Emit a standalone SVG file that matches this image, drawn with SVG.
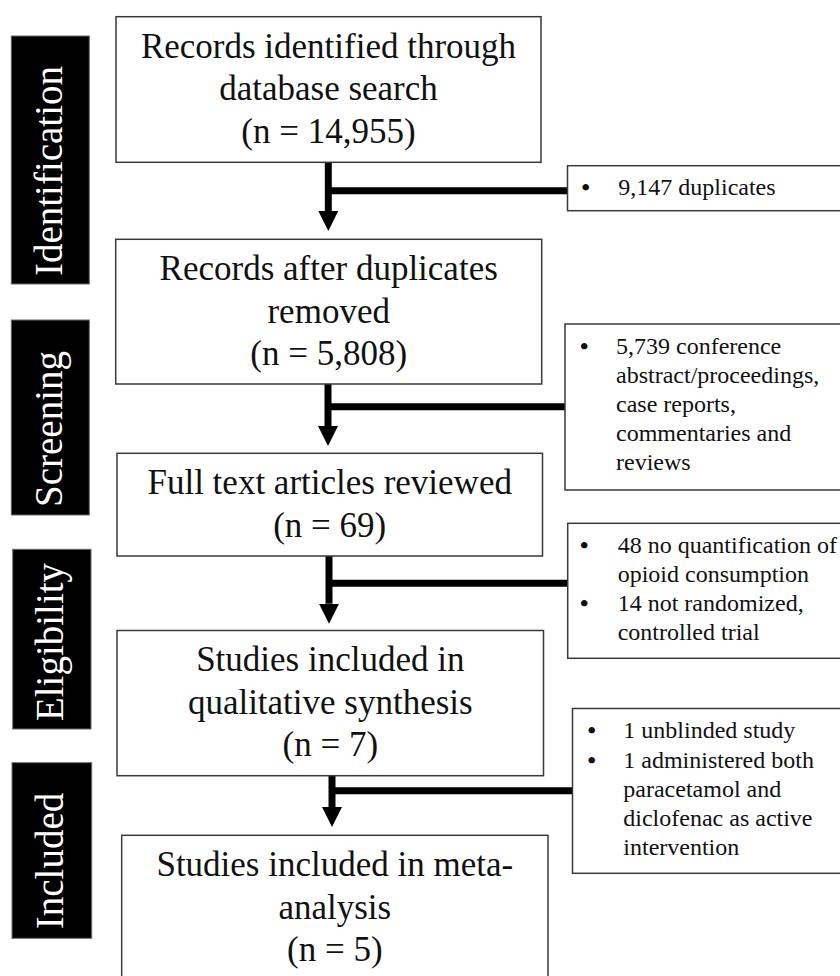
<svg xmlns="http://www.w3.org/2000/svg" width="840" height="976" viewBox="0 0 840 976">
<style>
.bg{fill:#ffffff}
.box{fill:#ffffff;stroke:#3a3a3a;stroke-width:1.5}
.lab{fill:#000000;stroke:#6a6a6a;stroke-width:1}
.labt{font-family:"Liberation Serif","Times New Roman",serif;font-size:39px;fill:#ffffff;text-anchor:middle}
.mt{font-family:"Liberation Serif","Times New Roman",serif;font-size:35px;fill:#111111;text-anchor:middle}
.st{font-family:"Liberation Serif","Times New Roman",serif;font-size:24px;fill:#111111}
.bul{font-family:"Liberation Serif","Times New Roman",serif;font-size:24px;font-weight:bold;fill:#111111;text-anchor:middle}
.con{fill:none;stroke:#000000;stroke-width:7}
</style>
<defs>
<marker id="ah" markerUnits="userSpaceOnUse" markerWidth="20" markerHeight="20" refX="0" refY="10" orient="auto">
<path d="M0,0 L20,10 L0,20 z" fill="#000000"/>
</marker>
</defs>
<rect class="bg" x="0" y="0" width="840" height="976"/>

<g id="label-identification">
<rect class="lab" x="11.3" y="36" width="78" height="248"/>
<text class="labt" x="62" y="171" transform="rotate(-90 62 171)">Identification</text>
</g>
<g id="label-screening">
<rect class="lab" x="11.3" y="320" width="78" height="195"/>
<text class="labt" x="62" y="429" transform="rotate(-90 62 429)">Screening</text>
</g>
<g id="label-eligibility">
<rect class="lab" x="12.7" y="549.3" width="78.3" height="179.7"/>
<text class="labt" x="63" y="642" transform="rotate(-90 63 642)">Eligibility</text>
</g>
<g id="label-included">
<rect class="lab" x="12" y="762.7" width="79.7" height="175.6"/>
<text class="labt" x="63" y="861" transform="rotate(-90 63 861)">Included</text>
</g>

<g id="connectors">
<path class="con" d="M328.3,162 V211" marker-end="url(#ah)"/>
<path class="con" d="M328.3,190.7 H567.5"/>
<path class="con" d="M328,384 V426" marker-end="url(#ah)"/>
<path class="con" d="M328,406.7 H565"/>
<path class="con" d="M329,556 V603.7" marker-end="url(#ah)"/>
<path class="con" d="M329,583.3 H567.7"/>
<path class="con" d="M332,776 V807" marker-end="url(#ah)"/>
<path class="con" d="M332,790.7 H572.5"/>
</g>

<g id="node-identified">
<rect class="box" x="116" y="16.7" width="425" height="145.6"/>
<text class="mt" x="328.5" y="57.5">Records identified through</text>
<text class="mt" x="328.5" y="100">database search</text>
<text class="mt" x="328.5" y="142.7">(n = 14,955)</text>
</g>
<g id="node-after-duplicates">
<rect class="box" x="115.7" y="239.3" width="426" height="144.7"/>
<text class="mt" x="328.7" y="280.3">Records after duplicates</text>
<text class="mt" x="328.7" y="322.8">removed</text>
<text class="mt" x="328.7" y="365.3">(n = 5,808)</text>
</g>
<g id="node-fulltext">
<rect class="box" x="117" y="453.3" width="425.5" height="102.7"/>
<text class="mt" x="329.7" y="494">Full text articles reviewed</text>
<text class="mt" x="329.7" y="537">(n = 69)</text>
</g>
<g id="node-qualitative">
<rect class="box" x="117" y="630.5" width="426.5" height="145.2"/>
<text class="mt" x="330.3" y="671.2">Studies included in</text>
<text class="mt" x="330.3" y="713.7">qualitative synthesis</text>
<text class="mt" x="330.3" y="756.2">(n = 7)</text>
</g>
<g id="node-meta">
<rect class="box" x="121.7" y="835.3" width="426.3" height="160"/>
<text class="mt" x="334.8" y="875.8">Studies included in meta-</text>
<text class="mt" x="334.8" y="918.5">analysis</text>
<text class="mt" x="334.8" y="961">(n = 5)</text>
</g>

<g id="excl-duplicates">
<rect class="box" x="567.5" y="165.7" width="290" height="45"/>
<text class="bul" x="585.7" y="195.2">•</text>
<text class="st" x="618.3" y="195.2">9,147 duplicates</text>
</g>
<g id="excl-screening">
<rect class="box" x="565" y="324" width="290" height="166"/>
<text class="bul" x="584.3" y="353.5">•</text>
<text class="st" x="616" y="353.5">5,739 conference</text>
<text class="st" x="616" y="382.7">abstract/proceedings,</text>
<text class="st" x="616" y="411.9">case reports,</text>
<text class="st" x="616" y="441.1">commentaries and</text>
<text class="st" x="616" y="470.3">reviews</text>
</g>
<g id="excl-eligibility">
<rect class="box" x="567.7" y="523.3" width="290" height="135"/>
<text class="bul" x="584.3" y="552.6">•</text>
<text class="st" x="617.7" y="552.6">48 no quantification of</text>
<text class="st" x="617.7" y="581.8">opioid consumption</text>
<text class="bul" x="584.3" y="611">•</text>
<text class="st" x="617.7" y="611">14 not randomized,</text>
<text class="st" x="617.7" y="640.2">controlled trial</text>
</g>
<g id="excl-included">
<rect class="box" x="572.5" y="708.5" width="290" height="164.8"/>
<text class="bul" x="591.7" y="738.3">•</text>
<text class="st" x="623.3" y="738.3">1 unblinded study</text>
<text class="bul" x="591.7" y="767.5">•</text>
<text class="st" x="623.3" y="767.5">1 administered both</text>
<text class="st" x="623.3" y="796.7">paracetamol and</text>
<text class="st" x="623.3" y="825.9">diclofenac as active</text>
<text class="st" x="623.3" y="855.1">intervention</text>
</g>
</svg>
